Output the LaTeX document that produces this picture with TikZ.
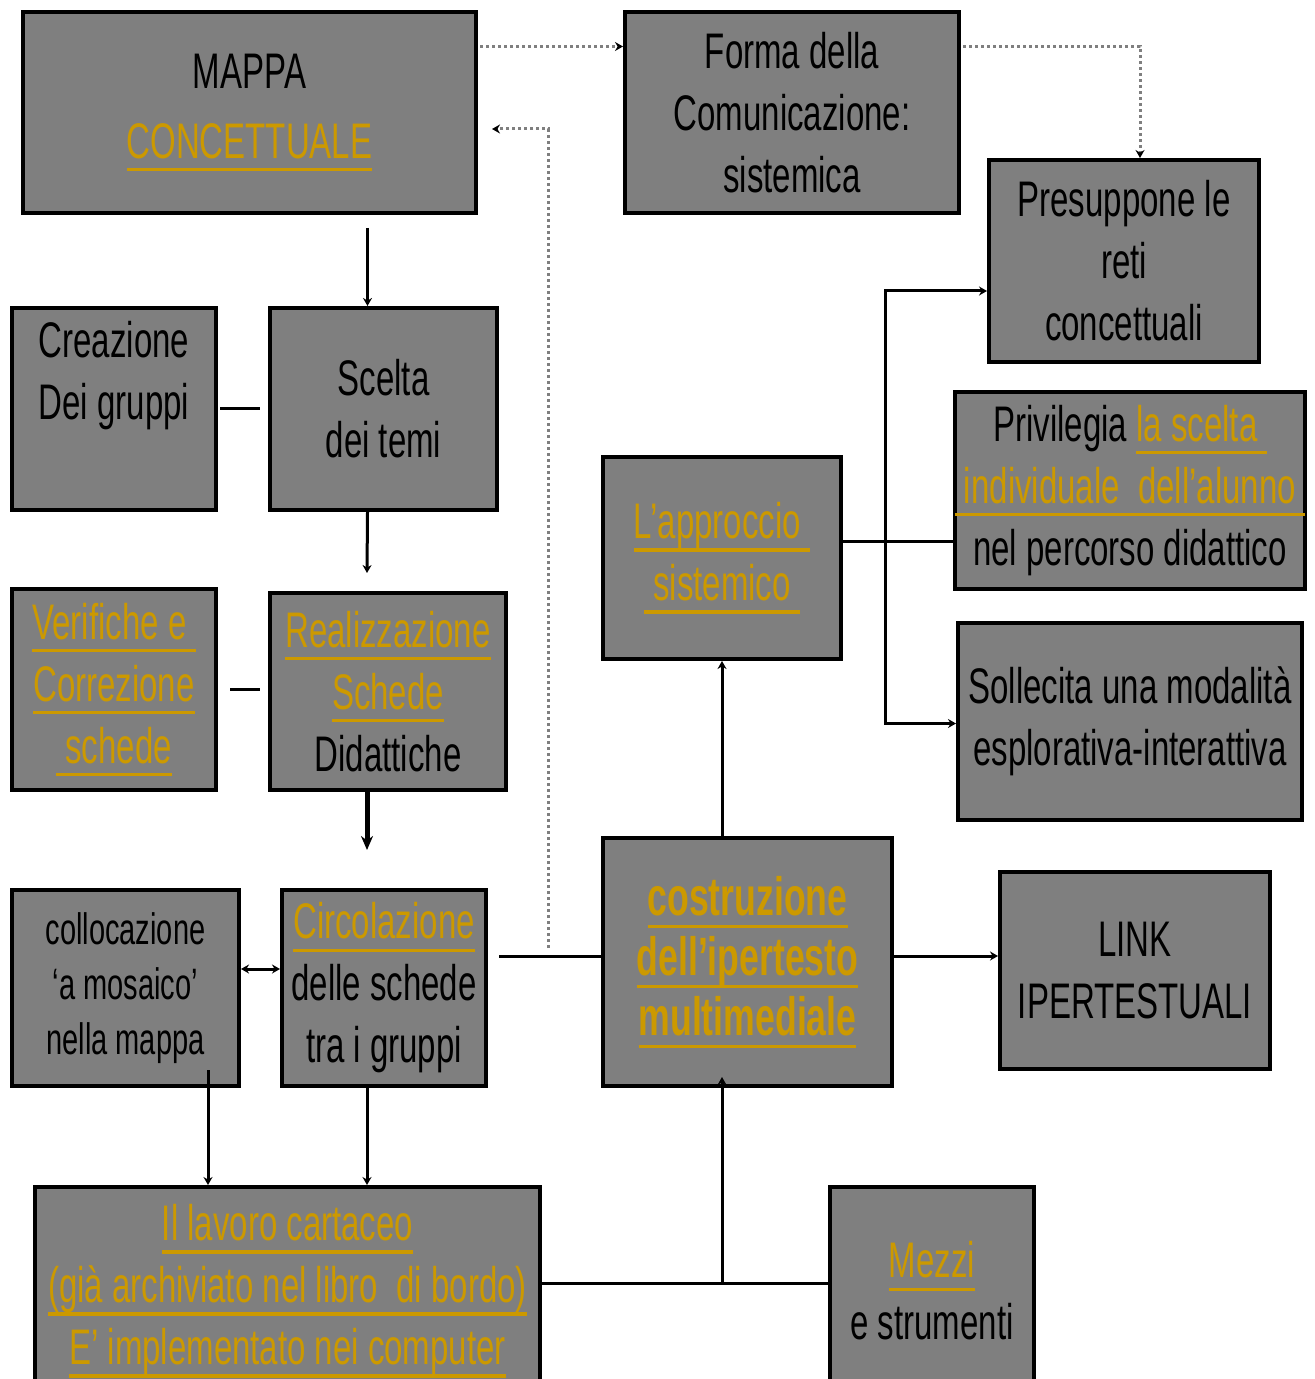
\documentclass[tikz,border=0pt]{standalone}
\usepackage{fontspec}
\setmainfont[FakeStretch=0.66]{Liberation Sans}
\usetikzlibrary{arrows.meta}

\definecolor{boxgray}{RGB}{127,127,127}
\definecolor{linkgold}{RGB}{204,153,0}
\newcommand{\lnk}[1]{{\color{linkgold}\setbox0\hbox{#1}\rlap{\rule[-6.5pt]{\wd0}{1.6pt}}\box0}}

\begin{document}
\begin{tikzpicture}[x=0.5pt,y=-0.5pt,font=\fontsize{25}{31}\selectfont]
	\useasboundingbox (0,0) rectangle (1314,1379);
	\begin{scope}[every node/.style={draw,line width=2pt,fill=boxgray,align=center,inner sep=0pt}]
    	\node[minimum width=226.5pt,minimum height=100.5pt] (mappa) at (249.5,112.5) {MAPPA\\[4pt]\lnk{CONCETTUALE}};
    	\node[minimum width=167pt,minimum height=100.5pt] (forma) at (792,112.5) {Forma della\\Comunicazione:\\sistemica};
    	\node[minimum width=135pt,minimum height=101pt] (presup) at (1124,261) {Presuppone le\\reti\\concettuali};
    	\node[minimum width=102pt,minimum height=101pt] (creaz) at (114,409) {};
    	\node[minimum width=113.5pt,minimum height=101pt] (scelta) at (383.5,409) {Scelta\\dei temi};
    	\node[minimum width=172pt,minimum height=98.5pt] (privil) at (1130,490.5) {Privilegia \lnk{la scelta\ }\\\lnk{\ individuale\ \ dell’alunno\ }\\nel percorso didattico};
    	\node[minimum width=119pt,minimum height=101pt] (approc) at (722,558) {\lnk{L’approccio\ }\\\lnk{\ sistemico\ }};
    	\node[minimum width=102pt,minimum height=100.5pt] (verif) at (114,689.5) {\lnk{Verifiche e\ }\\\lnk{Correzione}\\\lnk{\ schede}};
    	\node[minimum width=118pt,minimum height=98.5pt] (realiz) at (388,691.5) {\lnk{Realizzazione}\\\lnk{Schede}\\Didattiche};
    	\node[minimum width=172pt,minimum height=98.5pt] (sollec) at (1130,721.5) {Sollecita una modalità\\esplorativa-interattiva};
    	\node[minimum width=144.5pt,minimum height=124pt,font=\fontsize{27}{30}\selectfont\bfseries] (costr) at (747.5,962) {\lnk{costruzione}\\\lnk{dell’ipertesto}\\\lnk{multimediale}};
    	\node[minimum width=135pt,minimum height=98.5pt] (link) at (1135,970.5) {LINK\\IPERTESTUALI};
    	\node[minimum width=113.5pt,minimum height=98pt,font=\fontsize{22}{27.5}\selectfont] (colloc) at (125.5,988) {collocazione\\‘a mosaico’\\nella mappa};
    	\node[minimum width=102pt,minimum height=98pt] (circol) at (384,988) {\lnk{Circolazione}\\delle schede\\tra i\ gruppi};
    	\node[minimum width=252.5pt,minimum height=104pt] (lavoro) at (287.5,1291) {\lnk{Il lavoro cartaceo}\\\lnk{(già archiviato nel libro\ \ di bordo)}\\\lnk{E’ implementato nei computer}};
    	\node[minimum width=102pt,minimum height=104pt] (mezzi) at (932,1291) {\lnk{Mezzi}\\e strumenti};
	\end{scope}
	\node[align=center] (creaztext) at ([yshift=16.5pt]creaz.center) {Creazione\\Dei gruppi};

	\coordinate (dotfoot) at (548,948);
	\coordinate (hub) at (885,541);
	\begin{scope}[>={Stealth[length=4pt,width=4.5pt,black]},
              every path/.style={line width=1.5pt},
              dots/.style={draw=boxgray,dash pattern=on 1.5pt off 1.5pt}]
    	\draw[dots,->] ([xshift=1pt,yshift=33pt]mappa.east) -- ([yshift=33pt]forma.west);
    	\draw[dots,->] ([xshift=1pt,yshift=33pt]forma.east) -| ([xshift=8pt]presup.north);
    	\draw[dots,->] (dotfoot) |- ([xshift=7pt,yshift=-8.25pt]mappa.east);
    	\draw[->] ([xshift=-8pt,yshift=-6.5pt]scelta.north |- mappa.south) -- ([xshift=-8pt]scelta.north);
    	\draw ([xshift=1pt]creaz.east) -- ([xshift=-4pt]scelta.west);
    	\draw[->] ([xshift=-8pt]scelta.south) -- ([xshift=-10.5pt,yshift=9pt]realiz.north);
    	\draw ([xshift=6pt]verif.east) -- ([xshift=-4pt]realiz.west |- verif.east);
    	\draw[line width=2.5pt,-{Stealth[length=7pt,width=6pt,black]}] ([xshift=-10.5pt]realiz.south) -- ([xshift=-8.5pt,yshift=19pt]circol.north);
    	\draw[<->] ([yshift=9.5pt]colloc.east) -- ([yshift=9.5pt]circol.west);
    	\draw ([xshift=5.5pt,yshift=3pt]circol.east |- costr.west) -- ([yshift=3pt]costr.west);
    	\draw[->] ([xshift=41.25pt,yshift=9pt]colloc.south) -- ([xshift=41.25pt]colloc.south |- lavoro.north);
    	\draw[->] ([xshift=-8.5pt]circol.south) -- ([xshift=-8.5pt]circol.south |- lavoro.north);
    	\draw ([yshift=4pt]lavoro.east) -- ([yshift=4pt]mezzi.west);
    	\draw[->] ([xshift=-12.75pt,yshift=4pt]costr.south |- lavoro.east) -- ([xshift=-12.75pt,yshift=5.5pt]costr.south);
    	\draw[->] ([xshift=-12.75pt]costr.north) -- (approc.south);
    	\draw ([yshift=8.5pt]approc.east) -- ([yshift=8.5pt]approc.east -| privil.west);
    	\draw[->] (hub) |- ([yshift=-15pt]presup.west);
    	\draw[->] (hub) |- ([yshift=-1pt]sollec.west);
    	\draw[->] ([yshift=3pt]costr.east) -- ([yshift=3pt]costr.east -| link.west);
	\end{scope}
\end{tikzpicture}
\end{document}
